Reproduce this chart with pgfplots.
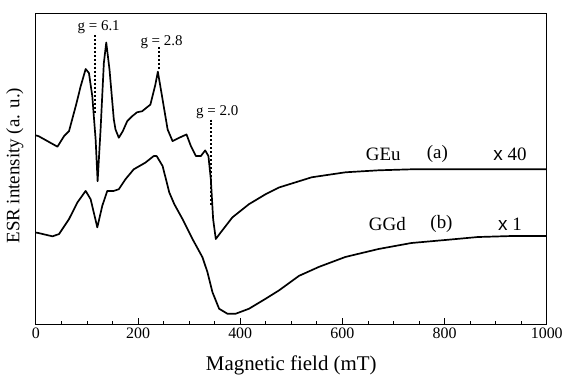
\documentclass[border=0pt]{standalone}
\usepackage{fontspec}
\setmainfont{Liberation Serif}
\newfontfamily\arialf{Liberation Sans}
\usepackage{pgfplots}
\pgfplotsset{compat=1.18}
\begin{document}
\begin{tikzpicture}
\begin{axis}[
  scale only axis, width=513pt, height=313pt,
  xmin=0, xmax=1000, ymin=58, ymax=371,
  xtick={0,200,...,1000}, minor x tick num=3,
  ytick=\empty,
  xtick pos=bottom, tick align=inside,
  major tick length=7pt, minor tick length=4pt,
  axis line style={line width=0.8pt},
  every tick/.style={line width=0.8pt, black},
  /pgf/number format/assume math mode=true,
  /pgf/number format/1000 sep={},
  tick label style={font=\fontsize{16}{19}\selectfont},
  xlabel={Magnetic field (mT)},
  ylabel={ESR intensity (a. u.)},
  xlabel style={font=\fontsize{21}{24}\selectfont, at={(axis description cs:0.5,-0.131)}, anchor=center},
  ylabel style={font=\fontsize{19}{22}\selectfont, at={(axis description cs:-0.041,0.51)}, anchor=center},
  clip=false,
]
% GEu (a)
\addplot[black, line width=1.7pt, line join=round] coordinates {
(0,248)(5.3,247.3)(42.3,236.7)(55.2,247.3)(64.9,252.3)(78,277.3)(87.7,297.3)(97.5,314.7)(103.9,310.7)(110.5,287.3)(117,244)(120.9,202)(126.7,254)(133.1,320.7)(137.8,341.3)(144.2,314)(152.6,264)(155.9,254)(162.4,245.7)(170.2,252.3)(178.8,262.3)(188.5,267.3)(198.2,271.3)(208,272.3)(224.2,279)(233.9,299)(238.8,312)(248.1,284)(257.9,254)(267.6,242.3)(280.7,245.7)(294.9,249)(303.5,237.3)(313.3,227.3)(323,227.3)(331.4,233)(337.8,227.3)(342.5,204)(347,164)(352.2,144)(362,150.7)(384.6,165.7)(417.2,179)(449.7,189)(475.6,195.7)(515,202)(540,206)(606,211)(671,213)(735,214)(1000,214)
};
% GGd (b)
\addplot[black, line width=1.7pt, line join=round] coordinates {
(0,150.5)(5.3,150)(32.6,146.7)(45.4,149)(64.9,164)(81.3,180.7)(97.5,192.3)(107.2,184)(120.3,155.7)(130,177.3)(139.8,192.3)(152.6,192.3)(162.4,194)(175.4,204)(191.6,214)(214.4,220.7)(230.6,227.3)(236.5,227.3)(248.1,217.3)(261.2,190.7)(271,179)(287.1,164)(306.6,144)(326.1,125.7)(335.9,110.7)(345.6,90.7)(358.7,74)(374.9,69)(391.2,69)(417.2,74)(449.7,84)(475.6,92.3)(515,107)(554,116)(606,126)(671,134)(735,140)(801,143)(865,146)(930,147)(1000,147)
};
% g markers
\addplot[black, line width=2pt, dash pattern=on 2pt off 2pt] coordinates {(115.6,349)(115.6,271)};
\addplot[black, line width=2pt, dash pattern=on 2pt off 2pt] coordinates {(240.1,337)(240.1,314)};
\addplot[black, line width=2pt, dash pattern=on 2pt off 2pt] coordinates {(343.5,264)(343.5,177)};
\node[font=\fontsize{15}{18}\selectfont] at (axis cs:123,357) {g = 6.1};
\node[font=\fontsize{15}{18}\selectfont] at (axis cs:246,342) {g = 2.8};
\node[font=\fontsize{15}{18}\selectfont] at (axis cs:355,271) {g = 2.0};
\node[font=\fontsize{19}{22}\selectfont] at (axis cs:680,229) {GEu};
\node[font=\fontsize{19}{22}\selectfont] at (axis cs:786,229) {(a)};
\node[font=\fontsize{19}{22}\selectfont] at (axis cs:928,229) {{\arialf x} 40};
\node[font=\fontsize{19}{22}\selectfont] at (axis cs:688,159) {GGd};
\node[font=\fontsize{19}{22}\selectfont] at (axis cs:794,159) {(b)};
\node[font=\fontsize{19}{22}\selectfont] at (axis cs:928,159) {{\arialf x} 1};
\end{axis}
\path (current axis.south west) ++(-36pt,-58pt) coordinate (bbA);
\path (current axis.north east) ++(17pt,13pt) coordinate (bbB);
\path (bbA) rectangle (bbB);
\end{tikzpicture}
\end{document}
